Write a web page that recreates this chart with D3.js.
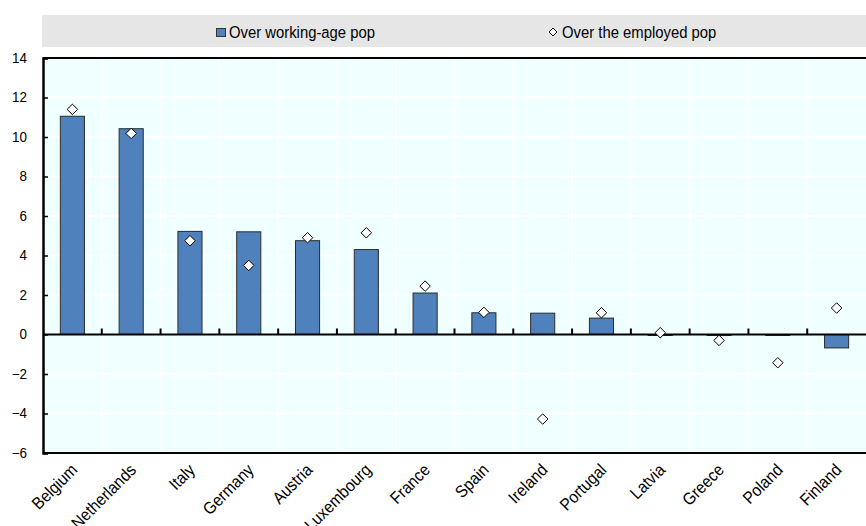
<!DOCTYPE html>
<html>
<head>
<meta charset="utf-8">
<script src="https://cdn.jsdelivr.net/npm/d3@7"></script>
<style>
  body { margin: 0; background: #fff; }
  svg text { font-family: "Liberation Sans", Arial, sans-serif; font-size: 14px; fill: #000; }
</style>
</head>
<body>
<svg id="chart" width="866" height="526"></svg>
<script>
const categories = ["Belgium", "Netherlands", "Italy", "Germany", "Austria", "Luxembourg", "France",
  "Spain", "Ireland", "Portugal", "Latvia", "Greece", "Poland", "Finland"];
const workingAge = [11.05, 10.42, 5.22, 5.2, 4.75, 4.3, 2.1, 1.1, 1.08, 0.83, -0.05, -0.05, -0.05, -0.68];
const employed = [11.4, 10.18, 4.75, 3.5, 4.9, 5.15, 2.45, 1.12, -4.28, 1.1, 0.09, -0.3, -1.43, 1.34];
const yTicks = [-6, -4, -2, 0, 2, 4, 6, 8, 10, 12, 14];
const seriesNames = ["Over working-age pop", "Over the employed pop"];

const svg = d3.select("#chart");
const margin = {left: 43, right: 0, top: 58, bottom: 73};
const W = 866, H = 526;

const x = d3.scaleBand().domain(categories).range([margin.left, W - margin.right]);
const y = d3.scaleLinear().domain([-6, 14]).range([H - margin.bottom, margin.top]);

// legend band
svg.append("rect").attr("x", 42).attr("y", 15).attr("width", W - 42).attr("height", 32).attr("fill", "#e6e6e6");
const leg = svg.append("g");
leg.append("rect").attr("x", 216.5).attr("y", 28.5).attr("width", 9).attr("height", 8)
  .attr("fill", "#4f81bd").attr("stroke", "#333").attr("stroke-width", 1);
leg.append("text").attr("transform", "translate(229,38) scale(0.9,1)").style("font-size", "16.5px").text(seriesNames[0]);
leg.append("path").attr("d", d3.symbol(d3.symbolDiamond2, 40)())
  .attr("transform", "translate(553,32)").attr("fill", "#fff").attr("stroke", "#000");
leg.append("text").attr("transform", "translate(562,38) scale(0.9,1)").style("font-size", "16.5px").text(seriesNames[1]);

// plot background
svg.append("rect").attr("x", margin.left).attr("y", margin.top)
  .attr("width", W - margin.left - margin.right).attr("height", y(-6) - y(14)).attr("fill", "#f0ffff");

// gridlines
svg.append("g").selectAll("line").data(yTicks).join("line")
  .attr("x1", margin.left).attr("x2", W).attr("y1", d => y(d)).attr("y2", d => y(d))
  .attr("stroke", "#fff").attr("stroke-width", 2);
svg.append("g").selectAll("line").data(categories.slice(1)).join("line")
  .attr("x1", d => x(d)).attr("x2", d => x(d)).attr("y1", y(14)).attr("y2", y(-6))
  .attr("stroke", "#fff").attr("stroke-width", 2);

// bars
const bw = x.bandwidth() * 0.41;
svg.append("g").selectAll("rect").data(categories).join("rect")
  .attr("x", d => x(d) + x.bandwidth() / 2 - bw / 2)
  .attr("width", bw)
  .attr("y", (d, i) => y(Math.max(0, workingAge[i])))
  .attr("height", (d, i) => Math.abs(y(workingAge[i]) - y(0)))
  .attr("fill", "#4f81bd").attr("stroke", "#2b2b2b").attr("stroke-width", 1);

// zero line and category ticks
svg.append("line").attr("x1", margin.left).attr("x2", W).attr("y1", y(0)).attr("y2", y(0))
  .attr("stroke", "#000").attr("stroke-width", 2);
svg.append("g").selectAll("line").data(categories.slice(1)).join("line")
  .attr("x1", d => x(d)).attr("x2", d => x(d)).attr("y1", y(0)).attr("y2", y(0) - 6)
  .attr("stroke", "#000").attr("stroke-width", 2);

// diamonds
svg.append("g").selectAll("path").data(categories).join("path")
  .attr("d", d3.symbol(d3.symbolDiamond2, 70)())
  .attr("transform", (d, i) => `translate(${x(d) + x.bandwidth() / 2},${y(employed[i])})`)
  .attr("fill", "#fff").attr("stroke", "#000").attr("stroke-width", 1);

// frame: top and bottom
svg.append("line").attr("x1", margin.left).attr("x2", W).attr("y1", y(14)).attr("y2", y(14))
  .attr("stroke", "#000").attr("stroke-width", 2);
svg.append("line").attr("x1", margin.left).attr("x2", W).attr("y1", y(-6)).attr("y2", y(-6))
  .attr("stroke", "#000").attr("stroke-width", 2);

// y axis
const yAxis = svg.append("g").attr("transform", `translate(${margin.left},0)`)
  .call(d3.axisLeft(y).tickValues(yTicks).tickSize(-5));
yAxis.select(".domain").attr("stroke", "#000").attr("stroke-width", 2.5);
yAxis.selectAll(".tick line").attr("stroke", "#000").attr("stroke-width", 1.5);
yAxis.selectAll(".tick text").attr("font-size", null).attr("font-family", null)
  .attr("x", 0).attr("transform", "translate(-16,0) scale(0.96,1)");

// x labels
svg.append("g").selectAll("text").data(categories).join("text")
  .attr("text-anchor", "end")
  .style("font-size", "17px")
  .attr("transform", d => `translate(${x(d) + x.bandwidth() / 2 + 6},${y(-6) + 18}) rotate(-45) scale(0.91,1)`)
  .text(d => d);
</script>
</body>
</html>
